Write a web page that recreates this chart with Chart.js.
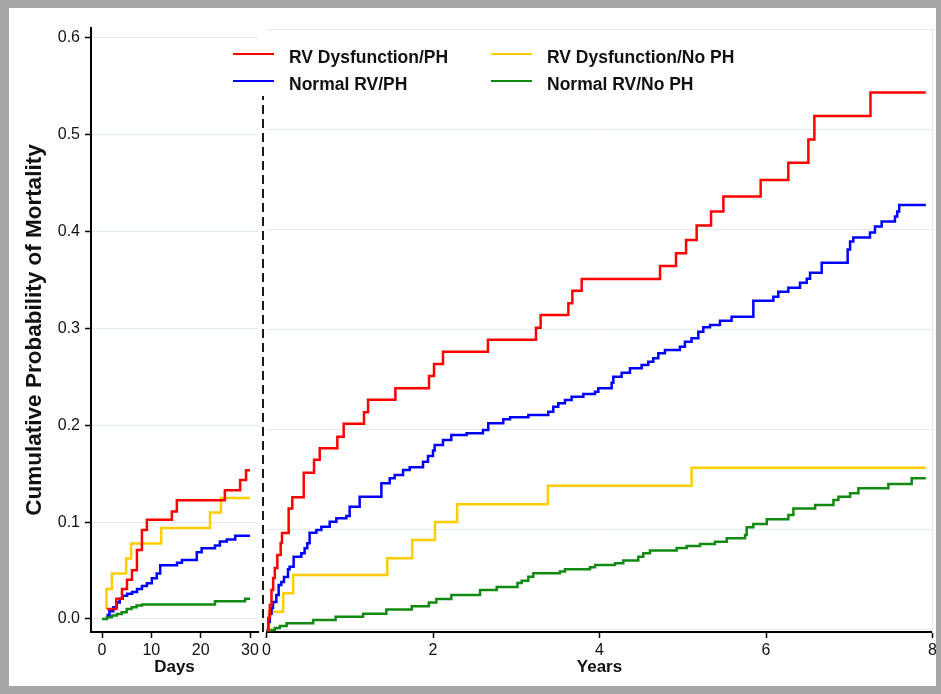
<!DOCTYPE html>
<html>
<head>
<meta charset="utf-8">
<script src="https://cdn.jsdelivr.net/npm/chart.js@4.4.1/dist/chart.umd.min.js"></script>
<style>
  html, body { margin: 0; padding: 0; background: #fff; }
  #frame { position: relative; width: 941px; height: 694px; overflow: hidden; background: #fff; }
  #border { position: absolute; left: 0; top: 0; width: 941px; height: 694px; box-sizing: border-box;
            border-style: solid; border-color: #a6a6a6; border-width: 8px 5px 8px 9px; pointer-events: none; }
  canvas { position: absolute; top: 0; }
  #daysChart { left: 0; }
  #yearsChart { left: 200px; }
</style>
</head>
<body>
<div id="frame">
  <canvas id="daysChart" width="266" height="694"></canvas>
  <canvas id="yearsChart" width="741" height="694"></canvas>
  <div id="border"></div>
</div>
<script>
// tick labels
const dayTicks = [0, 10, 20, 30];
const yearTicks = [0, 2, 4, 6, 8];
const probTicks = [0, 0.1, 0.2, 0.3, 0.4, 0.5, 0.6];

// groups (legend order: column by column)
const groupNames = ['RV Dysfunction/PH', 'Normal RV/PH', 'RV Dysfunction/No PH', 'Normal RV/No PH'];
const groupColors = ['#ff0000', '#0000ff', '#ffcc00', '#118a11'];

// first 30 days : [day, cumulative probability]
const rvdPhDays = [[1.0,0.0104],[2.9,0.0208],[4.05,0.031],[5.06,0.0406],[6.07,0.0503],[7.08,0.0712],[8.09,0.092],
  [9.1,0.1024],[14.16,0.111],[15.17,0.1226],[24.9,0.133],[28.0,0.1436],[29.2,0.1537],[30,0.1537]];
const normPhDays = [[0.9,0.004],[1.5,0.008],[2.3,0.012],[3.0,0.017],[3.6,0.021],[4.2,0.024],[5.1,0.026],[6.1,0.028],
  [7.1,0.031],[8.1,0.034],[9.1,0.037],[10.1,0.042],[11.1,0.047],[11.8,0.0556],[15.2,0.058],[16.2,0.061],[19.2,0.069],
  [20.2,0.073],[22.9,0.076],[23.9,0.080],[25.3,0.082],[27.0,0.086],[30,0.086]];
const rvdNoPhDays = [[0.9,0.0104],[0.9,0.031],[2.0,0.047],[4.9,0.0625],[5.9,0.078],[12.0,0.094],[21.9,0.110],[24.1,0.125],[30,0.125]];
const normNoPhDays = [[0,0],[1,0.0017],[2,0.0035],[3,0.0052],[4,0.007],[5,0.0104],[6,0.012],[7,0.0139],[8.1,0.0149],
  [22.9,0.0184],[29.0,0.021],[30,0.021]];

// landmark after day 30 : [years, cumulative probability]
const rvdPhYears = [[0,0],[0.02,0.012],[0.04,0.025],[0.06,0.04],[0.08,0.052],[0.10,0.062],[0.13,0.075],[0.17,0.087],
  [0.186,0.097],[0.266,0.1215],[0.31,0.1325],[0.447,0.157],[0.571,0.170],[0.639,0.1815],[0.851,0.193],[0.927,0.206],
  [1.171,0.2175],[1.22,0.230],[1.548,0.2414],[1.952,0.2537],[2.012,0.2657],[2.12,0.278],[2.66,0.290],[3.237,0.302],
  [3.293,0.3147],[3.626,0.3263],[3.674,0.339],[3.786,0.3506],[4.727,0.3636],[4.919,0.3763],[5.04,0.3896],[5.167,0.404],
  [5.34,0.418],[5.488,0.433],[5.936,0.4495],[6.268,0.4669],[6.509,0.490],[6.581,0.5135],[7.255,0.537],[7.92,0.537]];
const normPhYears = [[0,0],[0.02,0.008],[0.04,0.016],[0.06,0.022],[0.078,0.028],[0.118,0.035],[0.146,0.045],[0.178,0.048],
  [0.21,0.053],[0.258,0.0606],[0.278,0.0633],[0.326,0.0733],[0.418,0.0766],[0.458,0.0816],[0.49,0.0866],[0.518,0.0972],
  [0.599,0.0999],[0.659,0.1032],[0.759,0.1082],[0.839,0.1116],[0.959,0.1139],[0.999,0.1232],[1.119,0.1332],[1.38,0.1465],
  [1.48,0.1515],[1.54,0.1548],[1.64,0.1598],[1.72,0.1625],[1.88,0.1682],[1.94,0.1738],[2.0,0.1792],[2.02,0.1848],
  [2.12,0.1898],[2.22,0.1948],[2.404,0.1965],[2.6,0.1998],[2.664,0.2065],[2.844,0.2105],[2.925,0.2125],[3.145,0.2148],
  [3.385,0.218],[3.445,0.2231],[3.505,0.2264],[3.585,0.2298],[3.665,0.2331],[3.806,0.2358],[3.946,0.238],[3.986,0.2414],
  [4.146,0.247],[4.166,0.253],[4.266,0.257],[4.366,0.2614],[4.506,0.2647],[4.586,0.268],[4.646,0.2714],[4.706,0.2764],
  [4.786,0.2797],[4.966,0.283],[5.026,0.288],[5.106,0.2914],[5.187,0.298],[5.247,0.3024],[5.327,0.3047],[5.447,0.309],
  [5.587,0.313],[5.848,0.329],[6.088,0.333],[6.148,0.338],[6.268,0.342],[6.409,0.347],[6.489,0.351],[6.529,0.357],
  [6.669,0.367],[6.981,0.380],[7.01,0.388],[7.049,0.392],[7.249,0.397],[7.309,0.403],[7.389,0.408],[7.549,0.413],
  [7.577,0.418],[7.60,0.4246],[7.92,0.4246]];
const rvdNoPhYears = [[0,0],[0.03,0.0183],[0.2,0.0366],[0.32,0.055],[1.451,0.0716],[1.75,0.0899],[2.024,0.108],
  [2.29,0.1257],[3.38,0.144],[5.106,0.1622],[7.92,0.1622]];
const normNoPhYears = [[0,0],[0.1,0.002],[0.16,0.004],[0.242,0.0067],[0.56,0.0100],[0.83,0.0133],[1.16,0.0163],
  [1.44,0.0205],[1.745,0.0237],[1.95,0.0275],[2.04,0.031],[2.22,0.035],[2.565,0.040],[2.765,0.0430],[3.015,0.047],
  [3.065,0.0493],[3.145,0.0533],[3.205,0.0566],[3.525,0.0585],[3.585,0.0606],[3.886,0.0626],[3.946,0.065],[4.186,0.0668],
  [4.286,0.0695],[4.466,0.0733],[4.526,0.0766],[4.606,0.0795],[4.927,0.0818],[5.047,0.0840],[5.207,0.0860],[5.387,0.0882],
  [5.528,0.0916],[5.748,0.0949],[5.768,0.1026],[5.848,0.1059],[6.009,0.1106],[6.269,0.1149],[6.329,0.1215],[6.59,0.1249],
  [6.81,0.1299],[6.87,0.1332],[7.01,0.1365],[7.11,0.1415],[7.47,0.1459],[7.75,0.1515],[7.92,0.1515]];

const fontFamily = '"Liberation Sans", Arial, sans-serif';
Chart.defaults.font.family = fontFamily;
Chart.defaults.color = '#111';

const gridColor = '#e1ebeb';

// Kaplan-Meier style step line
function kmLine(points, i) {
  return {
    label: groupNames[i],
    data: points.map(p => ({ x: p[0], y: p[1] })),
    borderColor: groupColors[i],
    backgroundColor: groupColors[i],
    borderWidth: 2.5,
    stepped: true,
    pointRadius: 0,
    fill: false
  };
}

// vertical dashed line at the 30-day landmark
const landmarkDash = {
  id: 'landmarkDash',
  afterDatasetsDraw(chart) {
    const ctx = chart.ctx;
    const x = chart.chartArea.left - 3.5;
    ctx.save();
    ctx.strokeStyle = '#1a1a1a';
    ctx.lineWidth = 2;
    ctx.setLineDash([9, 5]);
    ctx.beginPath();
    ctx.moveTo(x, chart.chartArea.bottom);
    ctx.lineTo(x, 96);
    ctx.stroke();
    ctx.restore();
  }
};

// two-column legend inside the plot
const twoColumnLegend = {
  id: 'twoColumnLegend',
  afterDraw(chart) {
    const ctx = chart.ctx;
    const off = chart.canvas.offsetLeft;
    const colX = [233, 491];
    const rowY = [54, 81];
    ctx.save();
    ctx.font = 'bold 17.5px ' + fontFamily;
    ctx.textBaseline = 'alphabetic';
    chart.data.datasets.forEach((ds, i) => {
      const x = colX[Math.floor(i / 2)] - off;
      const y = rowY[i % 2];
      ctx.strokeStyle = ds.borderColor;
      ctx.lineWidth = 2;
      ctx.beginPath();
      ctx.moveTo(x, y);
      ctx.lineTo(x + 41, y);
      ctx.stroke();
      ctx.fillStyle = '#111';
      ctx.fillText(ds.label, x + 56, y + 8.5);
    });
    ctx.restore();
  }
};

const commonOpts = {
  responsive: false,
  animation: false,
  devicePixelRatio: 1,
  plugins: { legend: { display: false }, tooltip: { enabled: false } }
};

// ---- left panel: days ----
new Chart(document.getElementById('daysChart'), {
  type: 'line',
  data: {
    datasets: [kmLine(rvdPhDays, 0), kmLine(normPhDays, 1), kmLine(rvdNoPhDays, 2), kmLine(normNoPhDays, 3)]
  },
  options: {
    ...commonOpts,
    layout: { padding: { top: 28, right: 8, left: 0, bottom: 0 } },
    scales: {
      x: {
        type: 'linear',
        min: -2.23,
        max: 31.62,
        afterBuildTicks: s => { s.ticks = dayTicks.map(v => ({ value: v })); },
        afterFit: s => { s.height = 62; },
        border: { color: '#000', width: 2 },
        grid: { drawOnChartArea: false, tickLength: 6, tickColor: '#000', tickWidth: 1.5 },
        ticks: { font: { size: 16 }, padding: 3, maxRotation: 0, color: '#111' },
        title: { display: true, text: 'Days', color: '#111', font: { size: 17, weight: 'bold' }, padding: { top: 0, bottom: 16 } }
      },
      y: {
        min: -0.01343,
        max: 0.6103,
        afterBuildTicks: s => { s.ticks = probTicks.map(v => ({ value: v })); },
        afterFit: s => { s.width = 91; },
        border: { color: '#000', width: 2 },
        grid: { color: gridColor, lineWidth: 1, tickLength: 6, tickColor: '#000', tickWidth: 1.5 },
        ticks: { font: { size: 16 }, padding: 5, color: '#111', callback: v => v.toFixed(1) },
        title: {
          display: true,
          text: 'Cumulative Probability of Mortality',
          color: '#111',
          font: { size: 22.5, weight: 'bold' },
          padding: { top: 21, bottom: 0 }
        }
      }
    }
  }
});

// ---- right panel: years ----
new Chart(document.getElementById('yearsChart'), {
  type: 'line',
  data: {
    datasets: [kmLine(rvdPhYears, 0), kmLine(normPhYears, 1), kmLine(rvdNoPhYears, 2), kmLine(normNoPhYears, 3)]
  },
  options: {
    ...commonOpts,
    layout: { padding: { top: 28, right: 8.5, left: 66.5, bottom: 0 } },
    scales: {
      x: {
        type: 'linear',
        min: 0,
        max: 8,
        afterBuildTicks: s => { s.ticks = yearTicks.map(v => ({ value: v })); },
        afterFit: s => { s.height = 62; },
        border: { color: '#000', width: 2 },
        grid: { drawOnChartArea: false, tickLength: 6, tickColor: '#000', tickWidth: 1.5 },
        ticks: { font: { size: 16 }, padding: 3, maxRotation: 0, color: '#111' },
        title: { display: true, text: 'Years', color: '#111', font: { size: 17, weight: 'bold' }, padding: { top: 0, bottom: 16 } }
      },
      y: {
        min: -0.002,
        max: 0.6014,
        afterBuildTicks: s => { s.ticks = probTicks.map(v => ({ value: v })); },
        afterFit: s => { s.width = 0; },
        border: { display: false },
        grid: { color: gridColor, lineWidth: 1, drawTicks: false },
        ticks: { display: false }
      },
      yFrame: {
        position: 'right',
        min: -0.002,
        max: 0.6014,
        afterFit: s => { s.width = 0; },
        border: { color: gridColor, width: 1 },
        grid: { display: false },
        ticks: { display: false }
      }
    }
  },
  plugins: [landmarkDash, twoColumnLegend]
});
</script>
</body>
</html>
